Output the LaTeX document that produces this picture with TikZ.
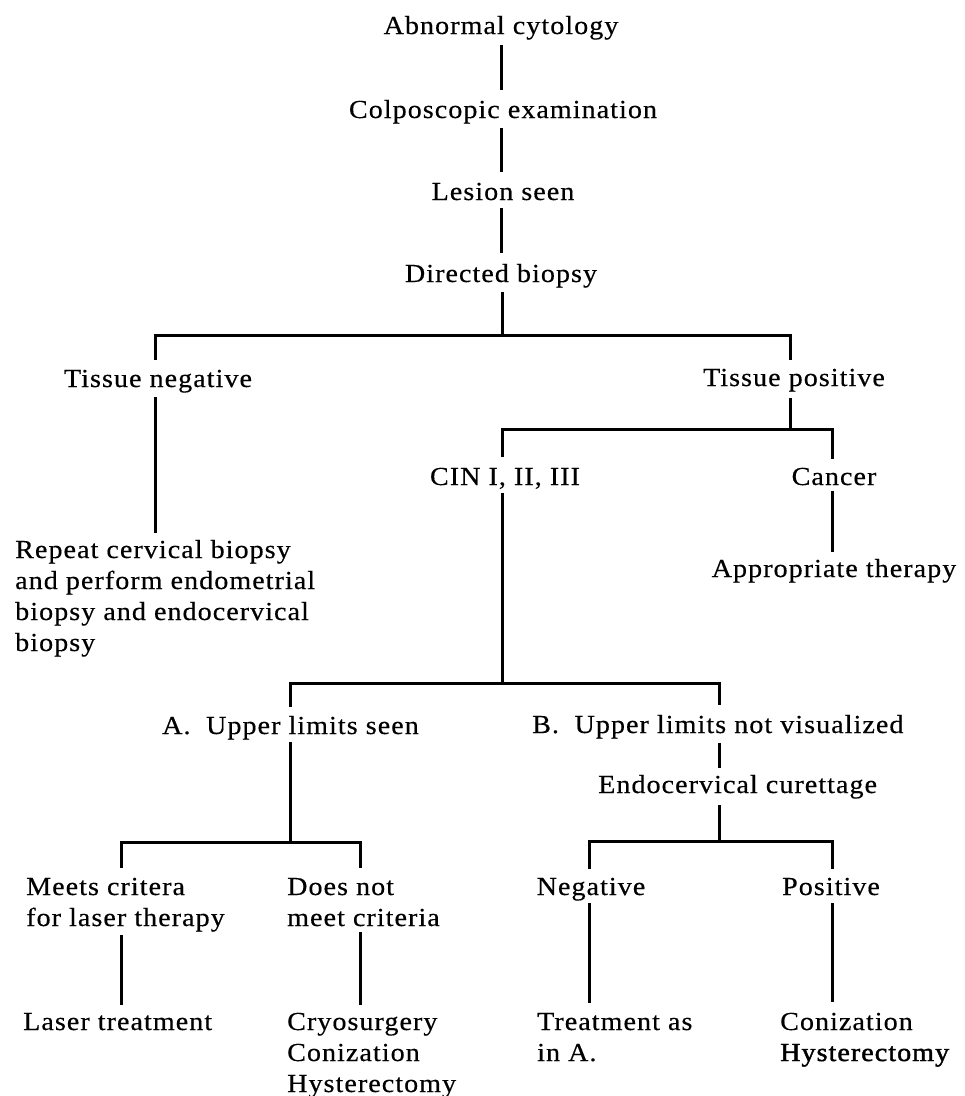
\documentclass[tikz,border=0pt]{standalone}
\usepackage{fontspec}
\setmainfont{Liberation Serif}[LetterSpace=4,FakeStretch=1.08,FakeBold=0.4]
\newfontfamily\heavyfont{Liberation Serif}[LetterSpace=4,FakeStretch=1.08,FakeBold=1.6]
\usetikzlibrary{calc}
\newcommand\stack[1]{\begin{tabular}[t]{@{}l@{}}#1\end{tabular}}
\begin{document}
\begin{tikzpicture}[x=1pt,y=-1pt,
  txt/.style={inner sep=0pt, anchor=base, font=\fontsize{26}{31}\selectfont},
  multi/.style={txt, anchor=base west},
  conn/.style={line width=3pt}]
\useasboundingbox (0,0) rectangle (965,1096);
% nodes
\node[txt] (abn)  at (501,34)  {Abnormal cytology};
\node[txt] (colp) at (503,118) {Colposcopic examination};
\node[txt] (les)  at (503,200) {Lesion seen};
\node[txt] (dir)  at (501,282) {Directed biopsy};
\node[txt] (tneg) at (158,387) {Tissue negative};
\node[txt] (tpos) at (794,386) {Tissue positive};
\node[multi] (rep) at (15,558) {\stack{Repeat cervical biopsy\\and perform endometrial\\biopsy and endocervical\\biopsy}};
\node[txt] (cin)  at (505,485) {CIN I, II, III};
\node[txt] (canc) at (834,485) {Cancer};
\node[txt] (appr) at (834,577) {Appropriate therapy};
\node[multi] (A)  at (162,734) {A.\hspace{0.6em}Upper limits seen};
\node[multi] (B)  at (532,733) {B.\hspace{0.6em}Upper limits not visualized};
\node[multi] (endo) at (598,793) {Endocervical curettage};
\node[multi] (meets) at (26,895) {\stack{Meets critera\\for laser therapy}};
\node[multi] (does)  at (287,895) {\stack{Does not\\meet criteria}};
\node[multi] (laser) at (23,1030) {Laser treatment};
\node[multi] (cryo)  at (287,1030) {\stack{Cryosurgery\\Conization\\Hysterectomy}};
\node[txt] (neg)  at (591,895) {Negative};
\node[txt] (pos)  at (831,895) {Positive};
\node[multi] (treat) at (537,1030) {\stack{Treatment as\\in A.}};
\node[multi] (coniz) at (780,1030) {\stack{Conization\\{\heavyfont Hysterectomy}}};
% junction coordinates
\coordinate (tr) at (501,0);
\coordinate (b1) at (502,335);
\coordinate (b2) at (790,429);
\coordinate (b3) at (502,683);
\coordinate (ca) at (290,683);
\coordinate (cb) at (719,683);
\coordinate (b4) at (290,842);
\coordinate (cl) at (121,842);
\coordinate (cr) at (360,842);
\coordinate (b5) at (719,841);
\coordinate (tn) at (155,335);
\coordinate (cc) at (832,429);
\coordinate (nl) at (589,841);
\coordinate (pl) at (832,841);
% trunk
\draw[conn] ($(tr |- abn.base)+(0,11)$) -- ($(tr |- colp.base)+(0,-28)$);
\draw[conn] ($(tr |- colp.base)+(0,10)$) -- ($(tr |- les.base)+(0,-28)$);
\draw[conn] ($(tr |- les.base)+(0,8)$) -- ($(tr |- dir.base)+(0,-29)$);
\draw[conn] ($(b1 |- dir.base)+(0,10)$) -- (b1);
% branch 1
\draw[conn] ($(tn |- tneg.base)+(0,-27)$) |- (b1) -| ($(b2 |- tpos.base)+(0,-26)$);
\draw[conn] ($(tn |- tneg.base)+(0,10)$) -- ($(tn |- rep.base)+(0,-25)$);
% tissue positive
\draw[conn] ($(b2 |- tpos.base)+(0,12)$) -- (b2);
\draw[conn] ($(b3 |- cin.base)+(0,-28)$) |- (b2) -| ($(cc |- canc.base)+(0,-26)$);
\draw[conn] ($(cc |- canc.base)+(0,6)$) -- ($(cc |- appr.base)+(0,-25)$);
% CIN
\draw[conn] ($(b3 |- cin.base)+(0,8)$) -- (b3);
\draw[conn] ($(ca |- A.base)+(0,-27)$) |- (b3) -| ($(cb |- B.base)+(0,-28)$);
% A
\draw[conn] ($(ca |- A.base)+(0,8)$) -- (b4);
\draw[conn] ($(cl |- meets.base)+(0,-27)$) |- (b4) -| ($(cr |- does.base)+(0,-27)$);
\draw[conn] ($(cl |- meets.base)+(0,40)$) -- ($(cl |- laser.base)+(0,-25)$);
\draw[conn] ($(cr |- does.base)+(0,37)$) -- ($(cr |- cryo.base)+(0,-25)$);
% B
\draw[conn] ($(cb |- B.base)+(0,10)$) -- ($(cb |- endo.base)+(0,-25)$);
\draw[conn] ($(cb |- endo.base)+(0,12)$) -- (b5);
\draw[conn] ($(nl |- neg.base)+(0,-26)$) |- (b5) -| ($(pl |- pos.base)+(0,-26)$);
\draw[conn] ($(nl |- neg.base)+(0,8)$) -- ($(nl |- treat.base)+(0,-27)$);
\draw[conn] ($(pl |- pos.base)+(0,8)$) -- ($(pl |- coniz.base)+(0,-28)$);
\end{tikzpicture}
\end{document}
